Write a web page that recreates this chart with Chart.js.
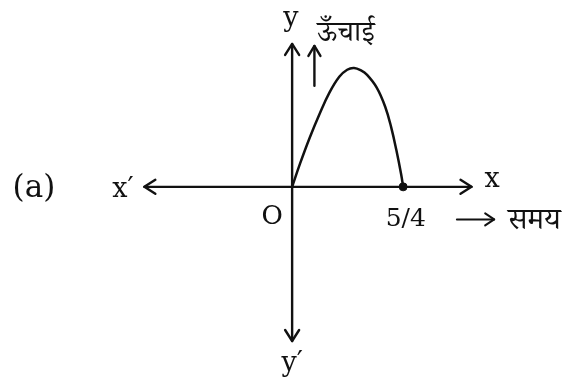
<!DOCTYPE html>
<html>
<head>
<meta charset="utf-8">
<script src="https://cdn.jsdelivr.net/npm/chart.js@4/dist/chart.umd.min.js"></script>
<style>
  html, body { margin: 0; padding: 0; background: #fff; }
  #chart { display: block; }
</style>
</head>
<body>
<canvas id="chart" width="564" height="383"></canvas>
<script>
// height of the ball vs time (figure units, root at t = 5/4)
const timeValues   = [0, 0.088, 0.199, 0.310, 0.420, 0.531, 0.620, 0.697, 0.780, 0.841, 0.951, 1.048, 1.117, 1.173, 1.228, 1.25];
const heightValues = [0, 0.260, 0.560, 0.830, 1.070, 1.250, 1.330, 1.350, 1.320, 1.275, 1.130, 0.910, 0.670, 0.420, 0.140, 0];

// marked point and tick labels
const rootPoint = [1.25, 0];
const tickLabels = ['O', '5/4'];
const axisLabels = ['x', 'x\u2032', 'y', 'y\u2032'];
const heightLabel = 'ऊँचाई';
const timeLabel = 'समय';
const partLabel = '(a)';

// axis extents (data units)
const xAxisEnds = [-1.664, 2.02];
const yAxisEnds = [-1.751, 1.623];

const ink = '#111';
const serif = '"DejaVu Serif", "Liberation Serif", serif';
const deva = '"Noto Serif Devanagari", "Noto Sans Devanagari", "Lohit Devanagari", "Noto Sans", sans-serif';

function arrowHead(ctx, x, y, angle, len, half) {
    ctx.save();
    ctx.translate(x, y);
    ctx.rotate(angle);
    ctx.beginPath();
    ctx.moveTo(-len, -half);
    ctx.lineTo(0, 0);
    ctx.lineTo(-len, half);
    ctx.stroke();
    ctx.restore();
}

const axesPlugin = {
    id: 'axesPlugin',
    beforeDatasetsDraw(chart) {
        const ctx = chart.ctx;
        const xs = chart.scales.x;
        const ys = chart.scales.y;
        const px = v => xs.getPixelForValue(v);
        const py = v => ys.getPixelForValue(v);
        const ox = px(0), oy = py(0);

        ctx.save();
        ctx.strokeStyle = ink;
        ctx.lineWidth = 2.4;
        ctx.lineCap = 'round';
        ctx.lineJoin = 'round';

        // x axis
        ctx.beginPath();
        ctx.moveTo(px(xAxisEnds[0]), oy);
        ctx.lineTo(px(xAxisEnds[1]), oy);
        ctx.stroke();
        arrowHead(ctx, px(xAxisEnds[1]), oy, 0, 11, 7);
        arrowHead(ctx, px(xAxisEnds[0]), oy, Math.PI, 11, 7);

        // y axis
        ctx.beginPath();
        ctx.moveTo(ox, py(yAxisEnds[0]));
        ctx.lineTo(ox, py(yAxisEnds[1]));
        ctx.stroke();
        arrowHead(ctx, ox, py(yAxisEnds[1]), -Math.PI / 2, 11, 7);
        arrowHead(ctx, ox, py(yAxisEnds[0]), Math.PI / 2, 11, 7);

        // small "height" arrow
        ctx.beginPath();
        ctx.moveTo(px(0.251), py(1.147));
        ctx.lineTo(px(0.251), py(1.60));
        ctx.stroke();
        arrowHead(ctx, px(0.251), py(1.60), -Math.PI / 2, 10, 6);

        // "time" arrow
        ctx.lineWidth = 2;
        ctx.beginPath();
        ctx.moveTo(px(1.855), py(-0.37));
        ctx.lineTo(px(2.275), py(-0.37));
        ctx.stroke();
        arrowHead(ctx, px(2.275), py(-0.37), 0, 9, 6);

        // labels
        ctx.fillStyle = ink;
        ctx.textBaseline = 'alphabetic';
        ctx.textAlign = 'center';
        ctx.font = '31px ' + serif;
        ctx.fillText(partLabel, px(-2.907), py(-0.11));
        ctx.font = '27px ' + serif;
        ctx.fillText(axisLabels[1], px(-1.906), py(-0.11));
        ctx.fillText(axisLabels[0], px(2.253), py(0.0));
        ctx.fillText(axisLabels[2], px(-0.014), py(1.83));
        ctx.fillText(axisLabels[3], px(0.0), py(-2.094));
        ctx.font = '26px ' + serif;
        ctx.fillText(tickLabels[0], px(-0.225), py(-0.423));
        ctx.font = '25px ' + serif;
        ctx.fillText(tickLabels[1], px(1.28), py(-0.446));

        ctx.textAlign = 'left';
        ctx.font = '29px ' + deva;
        ctx.fillText(heightLabel, px(0.284), py(1.66));
        ctx.font = '30px ' + deva;
        ctx.fillText(timeLabel, px(2.43), py(-0.48));
        ctx.restore();
    }
};

new Chart(document.getElementById('chart'), {
    type: 'scatter',
    data: {
        datasets: [{
            label: 'height',
            data: timeValues.map((t, i) => ({ x: t, y: heightValues[i] })),
            showLine: true,
            borderColor: ink,
            borderWidth: 2.5,
            pointRadius: 0,
            tension: 0.4,
            fill: false
        }, {
            label: 'root',
            data: [{ x: rootPoint[0], y: rootPoint[1] }],
            backgroundColor: ink,
            borderColor: ink,
            pointRadius: 4
        }]
    },
    plugins: [axesPlugin],
    options: {
        responsive: false,
        animation: false,
        devicePixelRatio: 1,
        layout: { padding: 0 },
        plugins: {
            legend: { display: false },
            tooltip: { enabled: false }
        },
        scales: {
            x: { type: 'linear', min: -3.233, max: 3.005, display: false },
            y: { type: 'linear', min: -2.171, max: 2.065, display: false }
        }
    }
});
</script>
</body>
</html>
